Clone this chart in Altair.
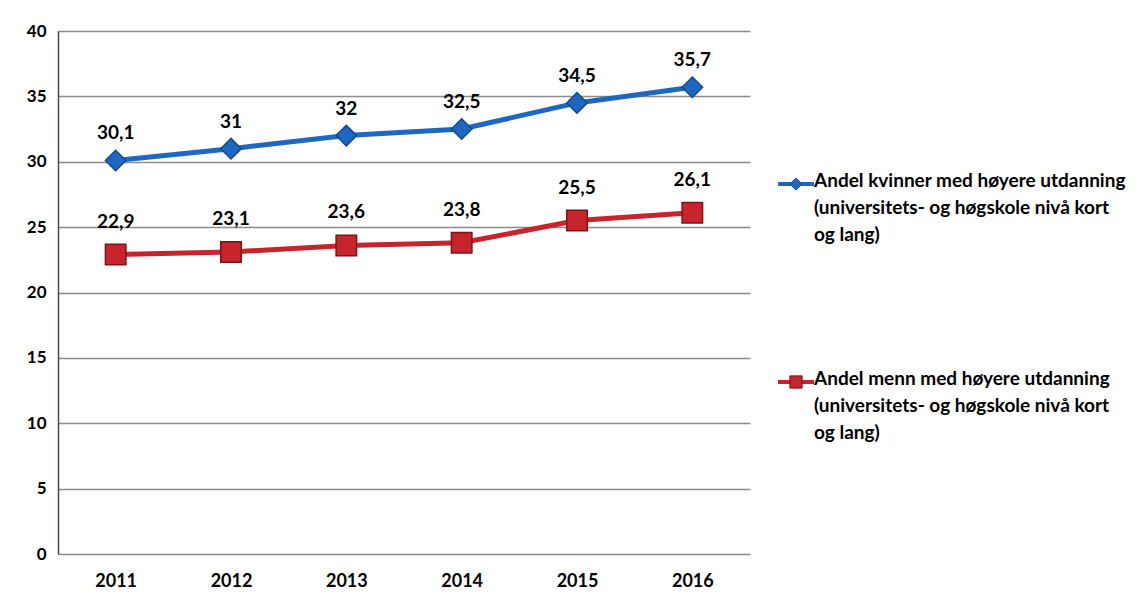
import altair as alt
import pandas as pd

years = ["2011", "2012", "2013", "2014", "2015", "2016"]
kvinner = [30.1, 31, 32, 32.5, 34.5, 35.7]
menn = [22.9, 23.1, 23.6, 23.8, 25.5, 26.1]
series = ["kvinner", "menn"]
legend_labels = [
    "Andel kvinner med høyere utdanning\n(universitets- og høgskole nivå kort\nog lang)",
    "Andel menn med høyere utdanning\n(universitets- og høgskole nivå kort\nog lang)",
]
colors = ["#1f68c1", "#c8242c"]
edge_colors = ["#134a8e", "#7e1418"]
shapes = ["diamond", "square"]

rows = []
for s, vals in zip(series, [kvinner, menn]):
    for y, v in zip(years, vals):
        rows.append({"year": y, "value": v, "serie": s,
                     "label": (f"{v:g}").replace(".", ",")})
df = pd.DataFrame(rows)

FONT = "Lato"

x_enc = alt.X("year:O", scale=alt.Scale(type="point", padding=0.5),
              axis=alt.Axis(title=None, labelAngle=0, ticks=False, domain=False,
                            labelFontSize=18, labelFontWeight="bold", labelFont=FONT,
                            labelColor="black", labelPadding=18, grid=False))
y_enc = alt.Y("value:Q", scale=alt.Scale(domain=[0, 40]),
              axis=alt.Axis(title=None, values=list(range(0, 45, 5)), ticks=False,
                            labelFontSize=17, labelFontWeight="bold", labelFont=FONT,
                            labelColor="black", labelPadding=12,
                            domainColor="#3d4a5c", domainWidth=1.5,
                            grid=True, gridColor="#8c8c8c", gridWidth=1.3))
col_enc = alt.Color("serie:N", scale=alt.Scale(domain=series, range=colors), legend=None)
stroke_enc = alt.Stroke("serie:N", scale=alt.Scale(domain=series, range=edge_colors), legend=None)
shape_enc = alt.Shape("serie:N", scale=alt.Scale(domain=series, range=shapes), legend=None)
fill_enc = alt.Fill("serie:N", scale=alt.Scale(domain=series, range=colors), legend=None)

base = alt.Chart(df).encode(x=x_enc, y=y_enc)

lines = base.mark_line(strokeWidth=5).encode(color=col_enc)
points = base.mark_point(filled=True, opacity=1, size=420, strokeWidth=1.5).encode(
    fill=fill_enc, stroke=stroke_enc, shape=shape_enc)
text_k = base.mark_text(font=FONT, fontSize=19, fontWeight="bold", color="black",
                        dy=-27).encode(text="label:N").transform_filter(
    alt.datum.serie == "kvinner")
text_m = base.mark_text(font=FONT, fontSize=19, fontWeight="bold", color="black",
                        dy=-33).encode(text="label:N").transform_filter(
    alt.datum.serie == "menn")

main = alt.layer(lines, points, text_k, text_m).properties(width=692, height=523)

leg_df = pd.DataFrame({"serie": series, "text": legend_labels})
ly = alt.Y("serie:N", scale=alt.Scale(type="point", domain=series, range=[153, 351], padding=0),
           axis=None)
leg_base = alt.Chart(leg_df).encode(y=ly)
leg_rule = leg_base.mark_rule(strokeWidth=4).encode(
    x=alt.value(28), x2=alt.value(64), color=col_enc)
leg_pt = leg_base.mark_point(filled=True, opacity=1, size=150, strokeWidth=1).encode(
    x=alt.value(46), fill=fill_enc, stroke=stroke_enc, shape=shape_enc)
leg_txt = leg_base.mark_text(align="left", baseline="top", dy=-12, lineBreak="\n",
                             lineHeight=27, font=FONT, fontSize=19, fontWeight="bold",
                             color="black").encode(x=alt.value(64), text="text:N")
legend = alt.layer(leg_rule, leg_pt, leg_txt).properties(width=385, height=523)

chart = alt.hconcat(main, legend, spacing=0).properties(
    padding={"left": 18, "top": 14, "right": 0, "bottom": 0},
    background="white",
).configure_view(strokeWidth=0, stroke="transparent")

chart.save("out.html", embed_options={"renderer": "svg", "actions": False})
